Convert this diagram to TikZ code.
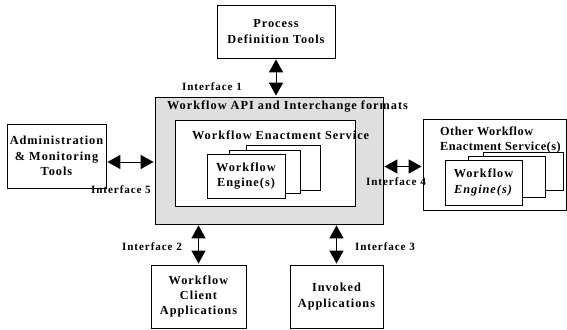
\documentclass[tikz,border=0pt]{standalone}
\usepackage{fontspec}
\setmainfont{Liberation Serif}[LetterSpace=8]
\usepackage{tikz}
\usetikzlibrary{arrows.meta}

\begin{document}
\begin{tikzpicture}[
        box/.style = {draw, fill = white, line width = 0.5pt, align = center, inner sep = 0pt},
        iface/.style = {{Triangle[length = 11pt, width = 12pt]}-{Triangle[length = 11pt, width = 12pt]}, line width = 0.7pt, shorten <= 1pt, shorten >= 1pt},
        lbl/.style = {font = \bfseries\fontsize{9.5}{10}\selectfont, inner sep = 0pt},
        every node/.style = {font = \bfseries\fontsize{10.5}{13}\selectfont}
    ]
        \useasboundingbox (0, 0) rectangle (17.01, 9.87);

        % outer boxes
        \node[box, minimum width = 3.54cm, minimum height = 1.59cm] (proc) at (8.28, 8.925) {Process\\Definition Tools};
        \node[box, minimum width = 2.97cm, minimum height = 1.92cm] (admin) at (1.695, 5.19) {Administration\\\& Monitoring\\Tools};
        \node[box, minimum width = 2.85cm, minimum height = 1.89cm] (client) at (5.955, 0.975) {Workflow\\Client\\Applications};
        \node[box, minimum width = 2.79cm, minimum height = 1.89cm] (invoked) at (10.095, 0.975) {Invoked\\Applications};

        % shaded API box
        \node[box, fill = gray!25, minimum width = 6.84cm, minimum height = 3.81cm] (api) at (8.07, 5.055) {};
        \node[anchor = west] (apilbl) at (4.89, 6.66) {Workflow API and Interchange formats};
        \node[box, minimum width = 5.4cm, minimum height = 2.58cm] (wes) at (7.95, 4.98) {};
        \node[anchor = west] (weslbl) at (5.64, 5.82) {Workflow Enactment Service};

        % engine stack
        \filldraw [color = black, fill = white] (7.38, 5.52) rectangle (9.60, 4.17);
        \filldraw [color = black, fill = white] (6.87, 5.37) rectangle (9.00, 4.08);
        \node[box, minimum width = 2.34cm, minimum height = 1.32cm] (engine) at (7.38, 4.59) {Workflow\\Engine(s)};

        % other enactment services
        \node[box, minimum width = 4.29cm, minimum height = 2.73cm] (other) at (14.835, 4.935) {};
        \node[anchor = west, align = left] (otherlbl) at (13.08, 5.67) {\addfontfeature{LetterSpace=4}Other Workflow\\\addfontfeature{LetterSpace=4}Enactment Service(s)};
        \filldraw [color = black, fill = white] (14.49, 5.31) rectangle (16.89, 4.17);
        \filldraw [color = black, fill = white] (14.04, 5.19) rectangle (16.35, 3.96);
        \node[box, minimum width = 2.31cm, minimum height = 1.35cm] (oengine) at (14.505, 4.395) {Workflow\\\textit{Engine(s)}};

        % interfaces
        \draw[iface] (proc.south) -- (proc.south |- api.north);
        \draw[iface] ([yshift = -0.18cm]admin.east) -- ([yshift = -0.18cm]admin.east -| api.west);
        \draw[iface] ([yshift = -0.18cm]api.east) -- ([yshift = -0.18cm]api.east -| other.west);
        \draw[iface] (client.north |- api.south) -- (client.north);
        \draw[iface] (invoked.north |- api.south) -- (invoked.north);

        \node[lbl] (if1) at (6.36, 7.26) {Interface 1};
        \node[lbl] (if5) at (3.63, 4.17) {Interface 5};
        \node[lbl] (if4) at (11.88, 4.41) {Interface 4};
        \node[lbl] (if2) at (4.56, 2.46) {Interface 2};
        \node[lbl] (if3) at (11.55, 2.46) {Interface 3};
\end{tikzpicture}
\end{document}
